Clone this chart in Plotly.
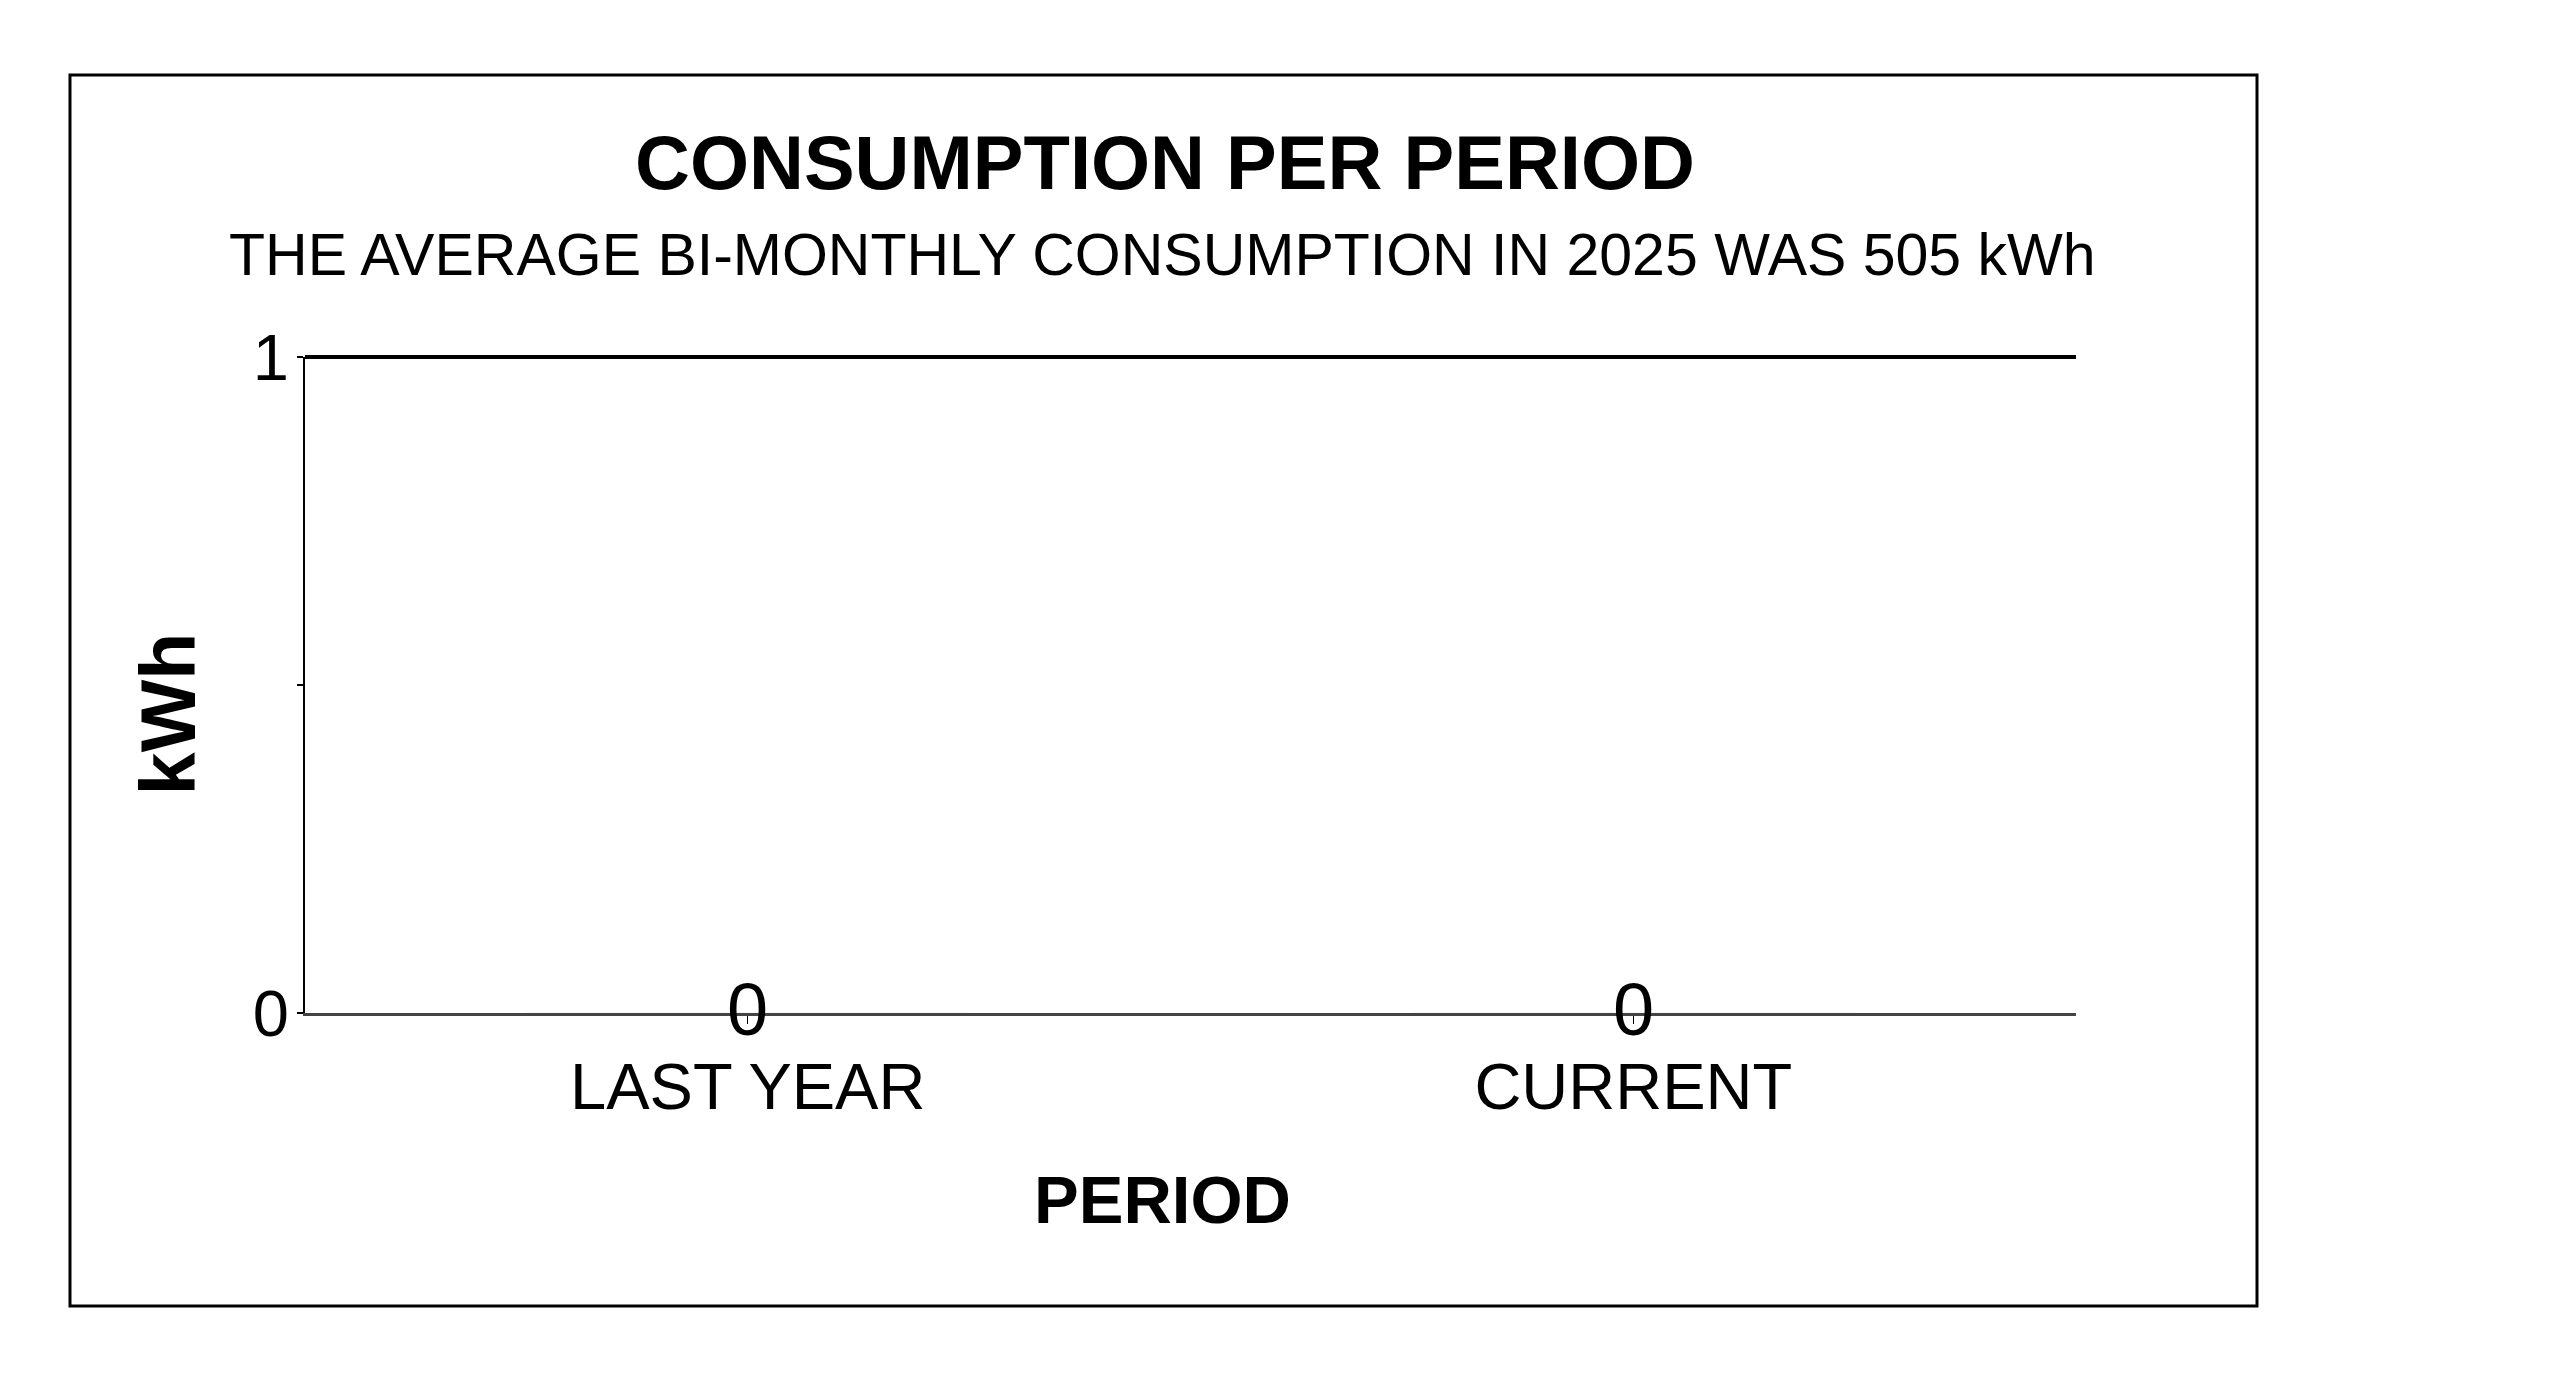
import plotly.graph_objects as go

# data
periods = ["LAST YEAR", "CURRENT"]
kwh = [0, 0]
y_ticks = [0, 0.5, 1]
y_tick_text = ["0", "", "1"]

TITLE = "CONSUMPTION PER PERIOD"
SUBTITLE = "THE AVERAGE BI-MONTHLY CONSUMPTION IN 2025 WAS 505 kWh"
FONT = "Liberation Sans, Arial, sans-serif"

fig = go.Figure()
fig.add_trace(go.Bar(x=periods, y=kwh, marker_color="#4a4a4a", width=0.5,
                     showlegend=False, hoverinfo="x+y"))

# value labels sit centred on the zero line
for p, v in zip(periods, kwh):
    fig.add_annotation(x=p, y=v, xref="x", yref="y", text=str(v),
                       showarrow=False, yshift=4,
                       font=dict(family=FONT, size=74, color="black"))

# plot area in px (page body adds 8px): x 297..2068, y 349..1005
fig.update_layout(
    width=2560, height=1400,
    margin=dict(l=297, r=492, t=349, b=395),
    paper_bgcolor="white", plot_bgcolor="white",
    font=dict(family=FONT, color="black"),
    bargap=0.5,
)

fig.update_xaxes(
    type="category", range=[-0.5, 1.5],
    showline=True, linecolor="#444", linewidth=3,
    ticks="outside", ticklen=8, tickwidth=1, tickcolor="black",
    tickfont=dict(size=65), ticklabelstandoff=7,
    showgrid=False, zeroline=False,
)
fig.update_yaxes(
    range=[0, 1], tickvals=y_ticks, ticktext=y_tick_text,
    showline=True, linecolor="black", linewidth=2,
    ticks="outside", ticklen=6, tickwidth=2, tickcolor="black",
    tickfont=dict(size=65), ticklabelstandoff=-5,
    showgrid=False, zeroline=False,
)

# heavy top rule of the plot area
fig.add_shape(type="line", xref="x domain", yref="y domain",
              x0=0, x1=1, y0=1, y1=1, line=dict(color="black", width=4))
# outer frame round the whole chart
fig.add_shape(type="rect", xref="paper", yref="paper",
              x0=-0.1327, x1=1.1022, y0=-0.4466, y1=1.430,
              line=dict(color="black", width=3), layer="below")

fig.add_annotation(text="<b>" + TITLE + "</b>", xref="paper", yref="paper",
                   x=0.4856, y=1.296, showarrow=False,
                   font=dict(size=76), xanchor="center", yanchor="middle")
fig.add_annotation(text=SUBTITLE, xref="paper", yref="paper",
                   x=0.484, y=1.155, showarrow=False,
                   font=dict(size=59), xanchor="center", yanchor="middle")
# axis titles, centred on the frame rather than the plot area
fig.add_annotation(text="<b>PERIOD</b>", xref="paper", yref="paper",
                   x=0.484, y=-0.285, showarrow=False,
                   font=dict(size=67), xanchor="center", yanchor="middle")
fig.add_annotation(text="<b>kWh</b>", xref="paper", yref="paper",
                   x=-0.0774, y=0.457, showarrow=False, textangle=-90,
                   font=dict(size=77), xanchor="center", yanchor="middle")

fig.write_html("out.html")
